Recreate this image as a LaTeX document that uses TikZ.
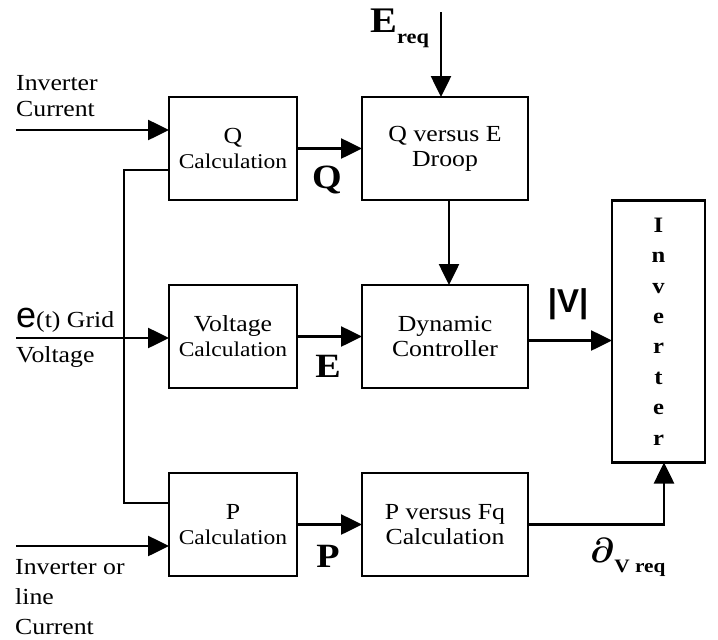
\documentclass[tikz,border=0pt]{standalone}
\usepackage{bm,graphicx}
\usepackage{fontspec}
\setmainfont{Liberation Serif}[FakeStretch=1.12]
\newfontfamily\sansfont{Liberation Sans}
\usetikzlibrary{arrows.meta,positioning}
\newcommand\txtsize{\fontsize{23}{25}\selectfont}
\newcommand\calcsize{\fontsize{21}{25}\selectfont}
\newcommand\sigsize{\fontsize{34}{34}\selectfont\bfseries}
\tikzset{blk/.style={draw,line width=2.6pt,outer sep=0pt,minimum width=128pt,minimum height=103pt,align=center,inner sep=0pt},
 wblk/.style={blk,minimum width=166pt},
 wire/.style={line width=2.6pt},arr/.style={wire,-{Triangle[length=21pt,width=20pt]}},
 lbl/.style={align=left,inner sep=0pt},
 sig/.style={anchor=base,inner sep=0pt,font=\sigsize},
 every node/.style={font=\txtsize}}
\begin{document}
\begin{tikzpicture}[x=1pt,y=-1pt]
\useasboundingbox (0,0) rectangle (718,640);
% blocks
\node[blk] (qcalc) at (233,148.5) {Q\\{\calcsize Calculation}};
\node[blk,below=85pt of qcalc] (vcalc) {Voltage\\{\calcsize Calculation}};
\node[blk,below=85pt of vcalc] (pcalc) {P\\{\calcsize Calculation}};
\node[wblk,right=65pt of qcalc] (droop) {Q versus E\\Droop};
\node[wblk,right=65pt of vcalc] (dyn) {Dynamic\\Controller};
\node[wblk,right=65pt of pcalc] (pfq) {P versus Fq\\Calculation};
\node[blk,minimum width=93pt,minimum height=262pt,right=84pt of dyn,yshift=5pt,font=\fontsize{22}{30.4}\selectfont\bfseries] (inv) {I\\n\\v\\e\\r\\t\\e\\r};
% inputs
\coordinate (ic) at (16,130);
\coordinate (gv) at (16,338);
\coordinate (lc) at (16,546);
\coordinate (er) at (441,12);
\node[lbl,anchor=north west,font=\fontsize{23}{26}\selectfont] (iclbl) at (16,75) {Inverter\\Current};
\node[lbl,anchor=base west] (gvlbl) at (16,327) {{\sansfont\fontsize{36}{36}\selectfont e}(t) Grid};
\node[lbl,anchor=base west] (gvlbl2) at (16,362) {Voltage};
\node[lbl,anchor=north west,font=\fontsize{23}{30}\selectfont] (lclbl) at (15,559) {Inverter or\\line\\Current};
\node[lbl,anchor=base west,font=\fontsize{36}{36}\selectfont\bfseries] (erlbl) at (370,32) {E\raisebox{-11pt}{\fontsize{20}{20}\selectfont\bfseries req}};
% signals
\node[sig] (qlbl) at (327,188) {Q};
\node[sig] (elbl) at (328,377) {E};
\node[sig] (plbl) at (328,567) {P};
\node[sig,font=\sansfont\fontsize{33}{33}\selectfont\bfseries] (vlbl) at (568,312) {|V|};
\node[lbl,anchor=base west,font=\sigsize] (dlbl) at (590,562) {\scalebox{1.4}{$\bm{\partial}$}\raisebox{-10pt}{\fontsize{19}{19}\selectfont\bfseries V req}};
% connectors
\draw[arr] (ic) -- (ic -| qcalc.west);
\draw[arr] (gv) -- (gv -| vcalc.west);
\draw[arr] (lc) -- (lc -| pcalc.west);
\draw[arr] (er) -- (er |- droop.north);
\draw[wire] ([yshift=-21.5pt]qcalc.west) -- ++(-45,0) |- ([yshift=21.5pt]pcalc.west);
\draw[arr] (qcalc.east) -- (qcalc.east -| droop.west);
\draw[arr] (vcalc.east) -- (vcalc.east -| dyn.west);
\draw[arr] (pcalc.east) -- (pcalc.east -| pfq.west);
\draw[arr] ([xshift=4pt]droop.south) -- ([xshift=4pt]dyn.north);
\draw[arr] ([yshift=-4pt]dyn.east) -- ([yshift=-4pt]dyn.east -| inv.west);
\draw[arr] (pfq.east) -| ([xshift=5.5pt]inv.south);
\end{tikzpicture}
\end{document}
